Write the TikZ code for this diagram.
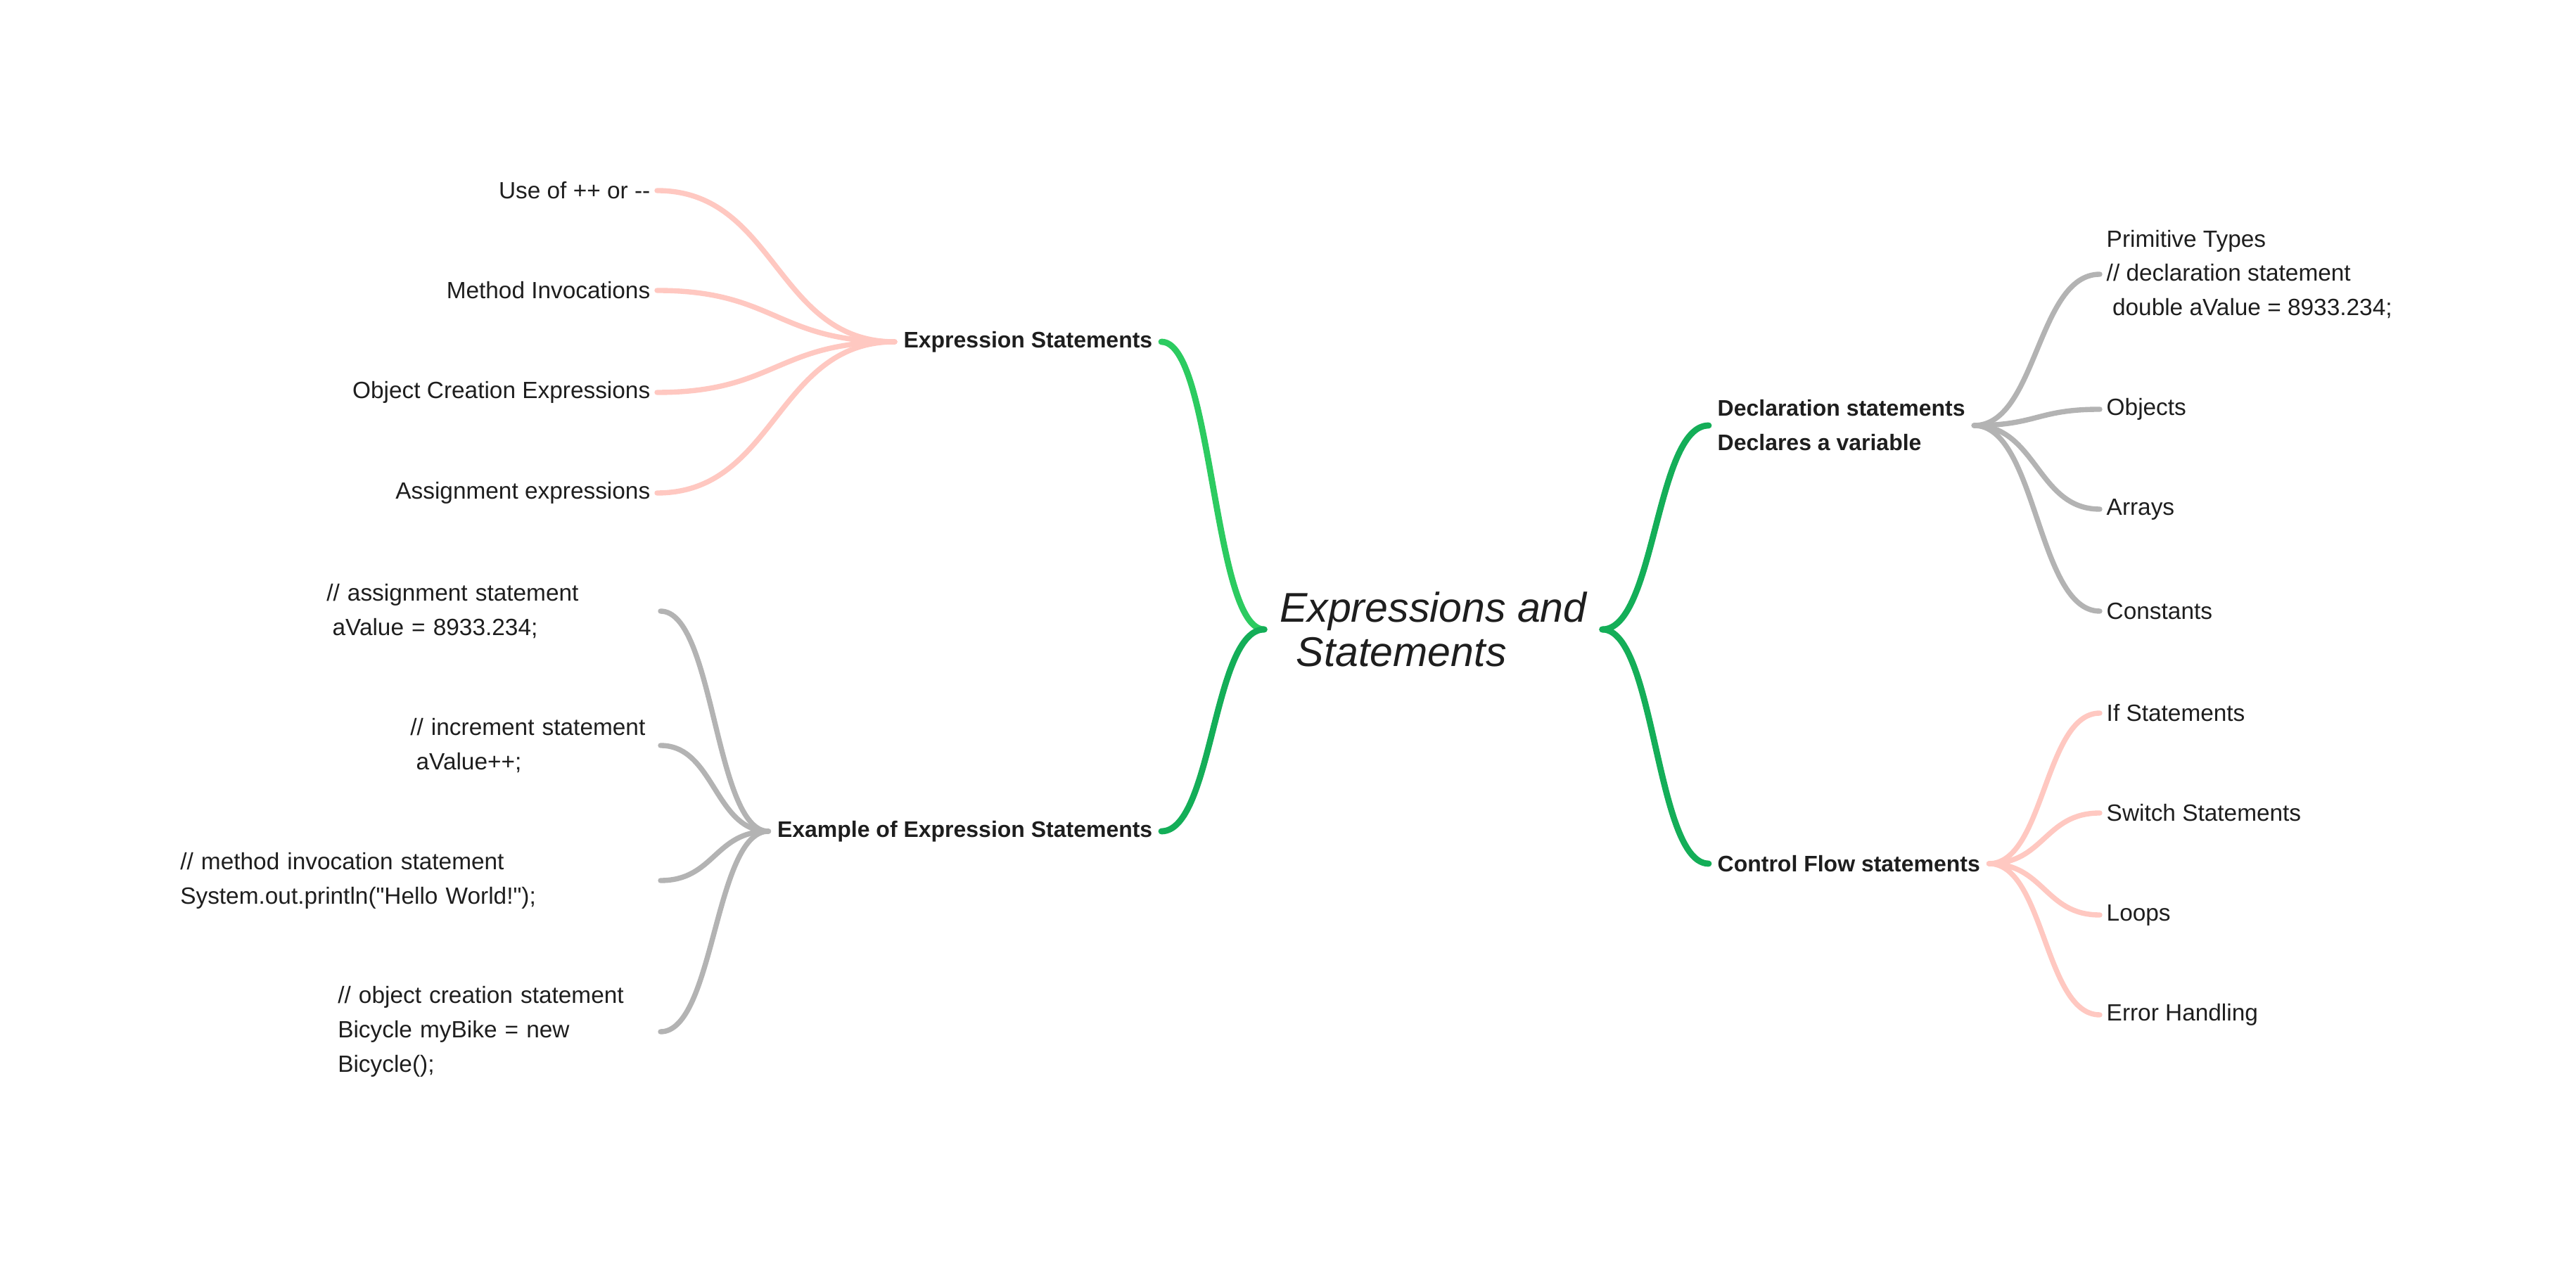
\documentclass[tikz,border=0pt]{standalone}
\usepackage{fontspec}
\setmainfont{Liberation Sans}[Ligatures=TeXOff]
\usetikzlibrary{calc}

\definecolor{greenA}{HTML}{2CCB60}
\definecolor{greenB}{HTML}{14AE58}
\definecolor{pinkBr}{HTML}{FFC8C1}
\definecolor{grayBr}{HTML}{B3B3B3}
\definecolor{inkTxt}{HTML}{1E1E1E}

\begin{document}
\begin{tikzpicture}[
  line cap=round,
  branch/.style={to path={.. controls ($(\tikztostart)!0.5!(\tikztostart -| \tikztotarget)$) and ($(\tikztotarget)!0.5!(\tikztotarget -| \tikztostart)$) .. (\tikztotarget)}},
  green_a/.style={branch, draw=greenA, line width=2.5pt},
  green_b/.style={branch, draw=greenB, line width=2.5pt},
  pink_br/.style={branch, draw=pinkBr, line width=2.1pt},
  gray_br/.style={branch, draw=grayBr, line width=2.1pt},
  root_txt/.style={font=\fontsize{16.8}{18}\selectfont\itshape, align=left, inner sep=0pt, minimum width=4.79cm, text=inkTxt},
  main_txt/.style={font=\fontsize{9.1}{13.9}\selectfont\bfseries, align=left, inner xsep=0.12cm, inner ysep=0pt, text=inkTxt},
  leaf_txt/.style={font=\fontsize{9.5}{13.9}\selectfont, align=left, inner xsep=0.09cm, inner ysep=0pt, text=inkTxt},
  code_txt/.style={leaf_txt, inner xsep=0pt}
]

% --- Fundo / margens ---
\fill[white] (0,0) rectangle (36.62,17.92);
\useasboundingbox (0,0) rectangle (36.62,17.92);

% --- Topico central ---
\node[root_txt] (root) at (20.375,8.97) {Expressions and\\\hspace*{0.4em}Statements};

% --- Ramos principais ---
\node[main_txt, anchor=east] (expr) at (16.51,13.06) {Expression Statements};
\node[main_txt, anchor=east] (exmp) at (16.51,6.10) {Example of Expression Statements};
\node[main_txt, anchor=west] (decl) at (24.29,11.87) {Declaration statements\\Declares a variable};
\node[main_txt, anchor=west] (ctrl) at (24.29,5.64) {Control Flow statements};

\draw[green_a] (root.west) to (expr.east);
\draw[green_b] (root.west) to (exmp.east);
\draw[green_b] (root.east) to (decl.west);
\draw[green_b] (root.east) to (ctrl.west);

% --- Expression Statements ---
\node[leaf_txt, anchor=east] (incdec) at (9.34,15.21) {Use of ++ or -{}-};
\node[leaf_txt, anchor=east] (minv)   at (9.34,13.79) {Method Invocations};
\node[leaf_txt, anchor=east] (ocre)   at (9.34,12.34) {Object Creation Expressions};
\node[leaf_txt, anchor=east] (asgn)   at (9.34,10.91) {Assignment expressions};

\draw[pink_br] (expr.west) to (incdec.east);
\draw[pink_br] (expr.west) to (minv.east);
\draw[pink_br] (expr.west) to (ocre.east);
\draw[pink_br] (expr.west) to (asgn.east);

% --- Exemplos ---
\node[code_txt, anchor=east, text width=4.74cm] (ex_asgn) at (9.39,9.23) {// assignment statement\\\hspace*{.25em}aValue = 8933.234;};
\node[code_txt, anchor=east, text width=3.55cm] (ex_inc)  at (9.39,7.32) {// increment statement\\\hspace*{.25em}aValue++;};
\node[code_txt, anchor=east, text width=6.82cm] (ex_call) at (9.39,5.40) {// method invocation statement\\System.out.println("Hello World!");};
\node[code_txt, anchor=east, text width=4.58cm] (ex_obj)  at (9.39,3.25) {// object creation statement\\Bicycle myBike = new\\Bicycle();};

\draw[gray_br] (exmp.west) to (ex_asgn.east);
\draw[gray_br] (exmp.west) to (ex_inc.east);
\draw[gray_br] (exmp.west) to (ex_call.east);
\draw[gray_br] (exmp.west) to (ex_obj.east);

% --- Declaracoes ---
\node[leaf_txt, anchor=west] (prim) at (29.85,14.02) {Primitive Types\\// declaration statement\\\hspace*{.25em}double aValue = 8933.234;};
\node[leaf_txt, anchor=west] (objs) at (29.85,12.10) {Objects};
\node[leaf_txt, anchor=west] (arrs) at (29.85,10.68) {Arrays};
\node[leaf_txt, anchor=west] (cons) at (29.85,9.23) {Constants};

\draw[gray_br] (decl.east) to (prim.west);
\draw[gray_br] (decl.east) to (objs.west);
\draw[gray_br] (decl.east) to (arrs.west);
\draw[gray_br] (decl.east) to (cons.west);

% --- Controle de fluxo ---
\node[leaf_txt, anchor=west] (ifst)  at (29.85,7.78) {If Statements};
\node[leaf_txt, anchor=west] (swst)  at (29.85,6.36) {Switch Statements};
\node[leaf_txt, anchor=west] (loops) at (29.85,4.91) {Loops};
\node[leaf_txt, anchor=west] (errh)  at (29.85,3.49) {Error Handling};

\draw[pink_br] (ctrl.east) to (ifst.west);
\draw[pink_br] (ctrl.east) to (swst.west);
\draw[pink_br] (ctrl.east) to (loops.west);
\draw[pink_br] (ctrl.east) to (errh.west);

\end{tikzpicture}
\end{document}
